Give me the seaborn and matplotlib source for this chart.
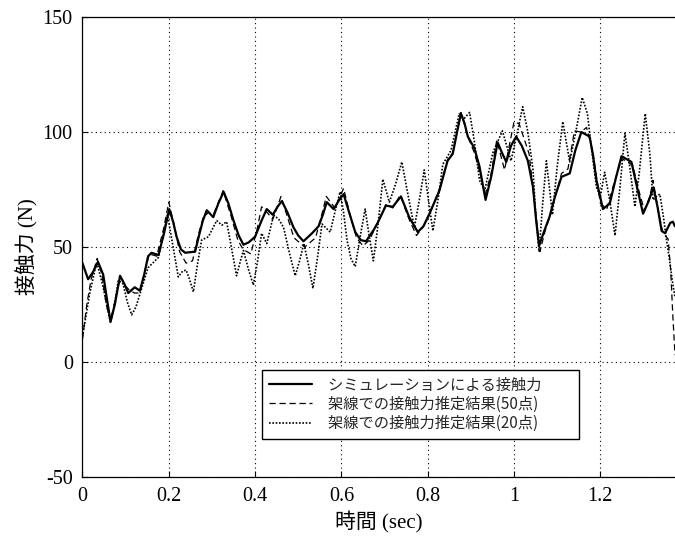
import pandas as pd
import matplotlib
matplotlib.use("Agg")
import matplotlib.pyplot as plt
import seaborn as sns

# simulation contact force (solid)
sim_t = [0.000, 0.013, 0.024, 0.036, 0.048, 0.057, 0.065, 0.075, 0.087, 0.097,
         0.106, 0.121, 0.133, 0.143, 0.152, 0.160, 0.176, 0.189, 0.201, 0.210,
         0.218, 0.228, 0.238, 0.261, 0.270, 0.279, 0.288, 0.303, 0.315, 0.327,
         0.338, 0.350, 0.362, 0.373, 0.385, 0.400, 0.415, 0.427, 0.441, 0.452,
         0.462, 0.475, 0.489, 0.500, 0.512, 0.532, 0.547, 0.557, 0.566, 0.582,
         0.595, 0.605, 0.618, 0.632, 0.645, 0.657, 0.675, 0.684, 0.703, 0.719,
         0.738, 0.757, 0.777, 0.790, 0.804, 0.827, 0.846, 0.858, 0.868, 0.877,
         0.885, 0.893, 0.908, 0.920, 0.934, 0.947, 0.962, 0.972, 0.982, 0.993,
         1.005, 1.018, 1.032, 1.044, 1.051, 1.058, 1.070, 1.082, 1.095, 1.110,
         1.129, 1.142, 1.156, 1.175, 1.183, 1.191, 1.206, 1.222, 1.236, 1.249,
         1.272, 1.285, 1.299, 1.312, 1.323, 1.333, 1.342, 1.350, 1.362, 1.368,
         1.373]
sim_f = [43, 36, 39, 43.5, 38, 27, 17.5, 25, 37.5, 34,
         30, 32.5, 31, 38, 46, 47.5, 46.5, 56, 66.5, 61,
         54.5, 49, 47.5, 48, 55, 61.5, 66, 63, 69, 74,
         69, 61.5, 55, 51, 52, 54.5, 61.5, 66.5, 64, 67.5,
         70, 65, 58.5, 55, 52.5, 56, 59, 64, 69.5, 66.5,
         70.5, 73, 65, 56.5, 53, 52.5, 57.5, 60.5, 68, 67.5,
         72, 63, 56.5, 59, 64.5, 74.5, 87.5, 90.5, 100, 108,
         104, 98, 93, 85, 70.5, 80.5, 95.5, 91, 87, 94,
         98, 94, 87.5, 76, 62, 50.5, 57, 63, 72, 80.5,
         82, 92, 100, 98, 90, 79, 66.5, 69, 80, 89.5,
         87, 76, 64.5, 70, 76, 67, 57, 56, 60.5, 61,
         59]

# estimate from 50 points (dashed)
est50_t = [0.000, 0.010, 0.020, 0.034, 0.045, 0.055, 0.065, 0.077, 0.088, 0.100,
           0.110, 0.121, 0.133, 0.145, 0.155, 0.172, 0.188, 0.200, 0.212, 0.225,
           0.240, 0.255, 0.268, 0.280, 0.292, 0.303, 0.326, 0.345, 0.360, 0.372,
           0.390, 0.405, 0.415, 0.428, 0.441, 0.460, 0.475, 0.490, 0.515, 0.540,
           0.553, 0.565, 0.585, 0.605, 0.620, 0.635, 0.650, 0.665, 0.685, 0.703,
           0.719, 0.736, 0.757, 0.774, 0.790, 0.804, 0.827, 0.846, 0.858, 0.877,
           0.893, 0.908, 0.920, 0.933, 0.947, 0.960, 0.978, 0.990, 1.000, 1.012,
           1.035, 1.046, 1.060, 1.072, 1.085, 1.110, 1.125, 1.140, 1.155, 1.168,
           1.182, 1.200, 1.215, 1.232, 1.250, 1.275, 1.290, 1.302, 1.315, 1.322,
           1.335, 1.345, 1.357, 1.363, 1.368, 1.373]
est50_f = [10, 25, 36, 45, 38, 25, 18, 28, 37, 33,
           31, 30, 30, 40, 47, 46, 58, 69.5, 60, 48,
           43, 44, 55, 63, 65, 64, 74.5, 63, 53, 49,
           47, 58, 67.5, 65, 62, 72, 63, 54, 50, 54,
           63, 72, 67, 75.5, 64, 54, 50.5, 53, 61, 68.5,
           67, 72.5, 62, 55, 59, 64, 75, 88, 91, 108.5,
           98, 91, 83, 72.5, 82, 96.5, 83.5, 95, 104.5, 103.5,
           90.5, 72, 48, 57, 64.5, 82, 84, 100.5, 100, 102,
           92, 69, 66.5, 78, 88.5, 85.5, 74, 66, 72, 79,
           65, 56, 53.5, 40, 20, 3]

# estimate from 20 points (dotted)
est20_t = [0.000, 0.017, 0.033, 0.048, 0.057, 0.065, 0.075, 0.083, 0.094, 0.104,
           0.114, 0.124, 0.133, 0.152, 0.176, 0.187, 0.197, 0.210, 0.222, 0.232,
           0.240, 0.248, 0.257, 0.266, 0.276, 0.292, 0.311, 0.323, 0.334, 0.345,
           0.357, 0.366, 0.373, 0.385, 0.396, 0.405, 0.415, 0.427, 0.443, 0.455,
           0.466, 0.480, 0.493, 0.503, 0.513, 0.524, 0.534, 0.545, 0.555, 0.574,
           0.586, 0.597, 0.605, 0.613, 0.622, 0.632, 0.643, 0.655, 0.665, 0.674,
           0.685, 0.696, 0.711, 0.725, 0.740, 0.755, 0.769, 0.782, 0.792, 0.802,
           0.812, 0.825, 0.835, 0.854, 0.873, 0.885, 0.897, 0.908, 0.920, 0.932,
           0.951, 0.973, 0.993, 1.008, 1.020, 1.032, 1.044, 1.050, 1.058, 1.066,
           1.075, 1.089, 1.100, 1.113, 1.129, 1.143, 1.158, 1.170, 1.180, 1.191,
           1.200, 1.210, 1.222, 1.234, 1.245, 1.257, 1.268, 1.280, 1.290, 1.304,
           1.315, 1.322, 1.330, 1.338, 1.347, 1.353, 1.361, 1.367, 1.373]
est20_f = [11, 30, 43.5, 32.5, 24, 17, 26, 35.5, 34, 26,
           20.5, 24, 29.5, 41, 45.5, 55, 64, 50, 37, 39.5,
           40, 36, 30.5, 42, 53, 54.5, 61.5, 59.5, 61, 50,
           37.5, 44, 48.5, 40, 33.5, 43, 56, 51.5, 64, 62,
           58.5, 47, 37.5, 44, 51.5, 42, 32, 46, 60, 56.5,
           66, 74, 65, 53, 45, 41.5, 54, 66.5, 54, 44,
           60, 79.5, 69.5, 77, 87, 72, 58.5, 72, 83.5, 70,
           57, 72, 86, 92, 108, 106, 108.5, 96, 79, 74.5,
           91, 100.5, 87.5, 100, 111, 100, 83.5, 65, 48, 68,
           87.5, 64, 85, 104.5, 87, 100, 115, 108, 92, 76,
           72, 82.5, 70, 55, 75, 99.5, 85, 67.5, 82, 108,
           90, 70.5, 72, 73, 62, 53.5, 43.5, 35, 28]

labels = ["シミュレーションによる接触力",
          "架線での接触力推定結果(50点)",
          "架線での接触力推定結果(20点)"]
x_ticks = [0, 0.2, 0.4, 0.6, 0.8, 1.0, 1.2]
x_tick_labels = ["0", "0.2", "0.4", "0.6", "0.8", "1", "1.2"]
y_ticks = [-50, 0, 50, 100, 150]

sns.set_theme(style="white")
plt.rcParams["font.family"] = ["Liberation Serif", "Noto Sans CJK JP"]
plt.rcParams["axes.unicode_minus"] = False

fig = plt.figure(figsize=(6.75, 5.37), dpi=100)
ax = fig.add_axes([0.1222, 0.1117, 0.8778, 0.8566])

series = [
    (sim_t, sim_f, dict(linewidth=1.6, linestyle="-")),
    (est50_t, est50_f, dict(linewidth=0.9, linestyle=(0, (5, 3)))),
    (est20_t, est20_f, dict(linewidth=1.2, linestyle=(0, (1, 1)))),
]
for (t, f, style), lab in zip(series, labels):
    df = pd.DataFrame({"time": t, "force": f})
    sns.lineplot(data=df, x="time", y="force", ax=ax, color="black",
                 estimator=None, sort=False, label=lab, legend=False, **style)

ax.set_xlim(0, 1.373)
ax.set_ylim(-50, 150)
ax.set_xticks(x_ticks)
ax.set_xticklabels(x_tick_labels)
ax.set_yticks(y_ticks)
ax.grid(True, color="black", linestyle=(0, (1, 3)), linewidth=0.8)
ax.tick_params(direction="in", length=4, width=0.8, colors="black",
               labelsize=14.5, pad=7, left=True, bottom=True)
for side in ["top", "left", "bottom"]:
    ax.spines[side].set_color("black")
    ax.spines[side].set_linewidth(0.9)
ax.spines["right"].set_visible(False)

ax.set_xlabel("時間 (sec)", fontsize=15, color="black", labelpad=4)
ax.set_ylabel("接触力 (N)", fontsize=15, color="black", labelpad=3)

# trailing ideographic spaces widen the frame on the right like the original
leg = ax.legend(handles=ax.lines[:3], labels=[s + "\u3000\u3000" for s in labels],
                loc="lower left", bbox_to_anchor=(0.303, 0.083), borderaxespad=0,
                prop={"family": "Noto Sans CJK JP", "size": 11},
                handlelength=2.8, handletextpad=1.1, labelspacing=0.15,
                borderpad=0.45, fancybox=False, framealpha=1)
leg.get_frame().set_edgecolor("black")
leg.get_frame().set_linewidth(1.0)

fig.savefig("out.png", dpi=100)
